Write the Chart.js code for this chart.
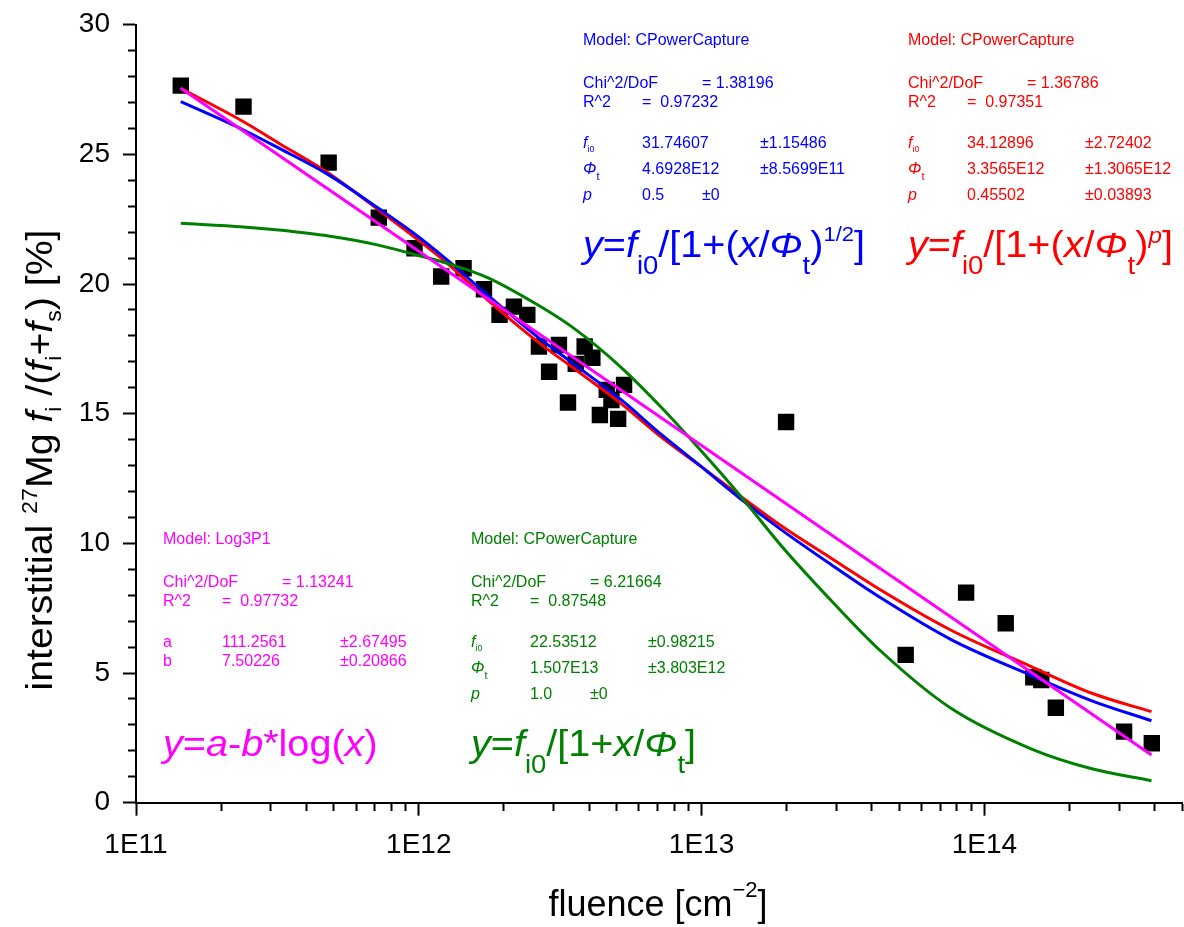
<!DOCTYPE html>
<html>
<head>
<meta charset="utf-8">
<script src="https://cdn.jsdelivr.net/npm/chart.js@4.4.1/dist/chart.umd.min.js"></script>
<style>
  html, body { margin: 0; padding: 0; background: #fff; }
  canvas { display: block; }
</style>
</head>
<body>
<canvas id="chart" width="1184" height="927"></canvas>
<script>
// measured data: fluence [cm^-2] vs interstitial fraction [%]
const fluence = [1.44e11, 2.40e11, 4.80e11, 7.22e11, 9.66e11, 1.20e12, 1.44e12, 1.70e12, 1.93e12, 2.17e12,
  2.42e12, 2.66e12, 2.89e12, 3.13e12, 3.37e12, 3.59e12, 3.86e12, 4.11e12, 4.37e12, 4.62e12, 4.80e12,
  5.07e12, 5.32e12, 1.99e13, 5.27e13, 8.62e13, 1.19e14, 1.49e14, 1.59e14, 1.79e14, 3.12e14, 3.91e14];
const fraction = [27.65, 26.84, 24.68, 22.56, 21.38, 20.29, 20.61, 19.80, 18.81, 19.13,
  18.81, 17.59, 16.62, 17.65, 15.43, 16.92, 17.59, 17.16, 14.95, 15.92, 15.53,
  14.80, 16.11, 14.68, 5.70, 8.10, 6.92, 4.84, 4.73, 3.66, 2.74, 2.29];

// fit curves
const fitX = [1.44e11, 2.4e11, 3.2e11, 4.8e11, 7.2e11, 9.6e11, 1.26e12, 1.75e12, 2.63e12, 3.53e12, 5.18e12,
  7.2e12, 1e13, 1.38e13, 1.9e13, 2.9e13, 4.3e13, 7.6e13, 1.47e14, 2.4e14, 3.9e14];
const redFit = [27.55, 26.26, 25.43, 24.27, 22.86, 21.83, 20.80, 19.39, 17.78, 16.75, 15.40,
  14.10, 12.95, 11.80, 10.70, 9.40, 8.20, 6.66, 5.24, 4.22, 3.51];
const blueFit = [27.03, 25.94, 25.24, 24.21, 22.92, 21.96, 20.93, 19.58, 17.96, 16.92, 15.55,
  14.20, 12.95, 11.70, 10.55, 9.15, 7.90, 6.30, 4.90, 3.93, 3.16];
const greenFit = [22.34, 22.20, 22.08, 21.85, 21.50, 21.15, 20.80, 20.25, 19.20, 18.30, 16.80,
  15.25, 13.55, 11.80, 9.95, 7.75, 5.85, 3.65, 2.07, 1.31, 0.85];
const magentaX = [1.44e11, 1e12, 1e13, 1e14, 3.9e14];
const magentaFit = [27.55, 21.26, 13.77, 6.27, 1.84];

// axis ticks
const decades = [1e11, 1e12, 1e13, 1e14];
const xTickLabels = ['1E11', '1E12', '1E13', '1E14'];
const yTickLabels = [0, 5, 10, 15, 20, 25, 30];

const FONT = '"Liberation Sans", Arial, Helvetica, sans-serif';

// fit report blocks
const blocks = [
  { color: '#0000ff', left: 583, top: 45, model: 'CPowerCapture', chi: '1.38196', r2: '0.97232',
    rows: [{ lab: 'f', val: '31.74607', err: '±1.15486', errX: 177, dy: 103 },
           { lab: 'Φ', val: '4.6928E12', err: '±8.5699E11', errX: 177, dy: 129 },
           { lab: 'p', val: '0.5', err: '±0', errX: 119, dy: 155 }],
    formula: [{ t: 'y', i: 1 }, { t: '=' }, { t: 'f', i: 1 }, { t: 'i0', s: 25, dy: 17 }, { t: '/[1+(' },
              { t: 'x', i: 1 }, { t: '/' }, { t: 'Φ', i: 1 }, { t: 't', s: 25, dy: 17 }, { t: ')' },
              { t: '1/2', s: 20, dy: -16 }, { t: ']' }] },
  { color: '#ff0000', left: 908, top: 45, model: 'CPowerCapture', chi: '1.36786', r2: '0.97351',
    rows: [{ lab: 'f', val: '34.12896', err: '±2.72402', errX: 177, dy: 103 },
           { lab: 'Φ', val: '3.3565E12', err: '±1.3065E12', errX: 177, dy: 129 },
           { lab: 'p', val: '0.45502', err: '±0.03893', errX: 177, dy: 155 }],
    formula: [{ t: 'y', i: 1 }, { t: '=' }, { t: 'f', i: 1 }, { t: 'i0', s: 25, dy: 17 }, { t: '/[1+(' },
              { t: 'x', i: 1 }, { t: '/' }, { t: 'Φ', i: 1 }, { t: 't', s: 25, dy: 17 }, { t: ')' },
              { t: 'p', i: 1, s: 22, dy: -14 }, { t: ']' }] },
  { color: '#ff00ff', left: 163, top: 544, model: 'Log3P1', chi: '1.13241', r2: '0.97732',
    rows: [{ lab: 'a', val: '111.2561', err: '±2.67495', errX: 177, dy: 103 },
           { lab: 'b', val: '7.50226', err: '±0.20866', errX: 177, dy: 122 }],
    formula: [{ t: 'y', i: 1 }, { t: '=' }, { t: 'a', i: 1 }, { t: '-' }, { t: 'b', i: 1 }, { t: '*log(' },
              { t: 'x', i: 1 }, { t: ')' }] },
  { color: '#008000', left: 471, top: 544, model: 'CPowerCapture', chi: '6.21664', r2: '0.87548',
    rows: [{ lab: 'f', val: '22.53512', err: '±0.98215', errX: 177, dy: 103 },
           { lab: 'Φ', val: '1.507E13', err: '±3.803E12', errX: 177, dy: 129 },
           { lab: 'p', val: '1.0', err: '±0', errX: 119, dy: 155 }],
    formula: [{ t: 'y', i: 1 }, { t: '=' }, { t: 'f', i: 1 }, { t: 'i0', s: 25, dy: 17 }, { t: '/[1+' },
              { t: 'x', i: 1 }, { t: '/' }, { t: 'Φ', i: 1 }, { t: 't', s: 25, dy: 17 }, { t: ']' }] }
];

const yTitle = [{ t: 'interstitial ' }, { t: '27', s: 22, dy: -15 }, { t: 'Mg ' }, { t: 'f', i: 1 },
  { t: 'i', s: 22, dy: 9 }, { t: ' /(' }, { t: 'f', i: 1 }, { t: 'i', s: 22, dy: 9 }, { t: '+' },
  { t: 'f', i: 1 }, { t: 's', s: 22, dy: 9 }, { t: ') [%]' }];
const xTitle = [{ t: 'fluence [cm' }, { t: '−2', s: 22, dy: -19 }, { t: ']' }];

function setFont(ctx, p, size) {
  ctx.font = (p.i ? 'italic ' : '') + (p.s || size) + 'px ' + FONT;
}
function richWidth(ctx, parts, size) {
  let w = 0;
  parts.forEach(p => { setFont(ctx, p, size); w += ctx.measureText(p.t).width; });
  return w;
}
// draws mixed italic / sub / superscript text, optionally stretched horizontally
function richText(ctx, x, y, parts, size, sx) {
  ctx.save();
  ctx.translate(x, y);
  ctx.scale(sx || 1, 1);
  let cx = 0;
  parts.forEach(p => {
    setFont(ctx, p, size);
    ctx.fillText(p.t, cx, p.dy || 0);
    cx += ctx.measureText(p.t).width;
  });
  ctx.restore();
}

function rowLabel(ctx, lab, x, y) {
  if (lab === 'f') richText(ctx, x, y, [{ t: 'f', i: 1 }, { t: 'i0', s: 9, dy: 4 }], 16);
  else if (lab === 'Φ') richText(ctx, x, y, [{ t: 'Φ', i: 1 }, { t: 't', s: 11, dy: 6 }], 16);
  else if (lab === 'p') richText(ctx, x, y, [{ t: 'p', i: 1 }], 16);
  else richText(ctx, x, y, [{ t: lab }], 16);
}

const textPlugin = {
  id: 'fitText',
  afterDraw(chart) {
    const ctx = chart.ctx;
    ctx.save();
    ctx.textAlign = 'left';
    ctx.textBaseline = 'alphabetic';
    blocks.forEach(b => {
      const L = b.left, T = b.top;
      ctx.fillStyle = b.color;
      ctx.font = '16px ' + FONT;
      ctx.fillText('Model: ' + b.model, L, T);
      ctx.fillText('Chi^2/DoF', L, T + 43);
      ctx.fillText('= ' + b.chi, L + 119, T + 43);
      ctx.fillText('R^2', L, T + 62);
      ctx.fillText('=  ' + b.r2, L + 59, T + 62);
      b.rows.forEach(r => {
        rowLabel(ctx, r.lab, L, T + r.dy);
        ctx.font = '16px ' + FONT;
        ctx.fillText(r.val, L + 59, T + r.dy);
        ctx.fillText(r.err, L + r.errX, T + r.dy);
      });
      richText(ctx, L, T + 212, b.formula, 36, 1.1);
    });

    // axis titles
    ctx.fillStyle = '#000';
    const xw = richWidth(ctx, xTitle, 36);
    richText(ctx, 658 - xw / 2, 916, xTitle, 36);
    ctx.translate(52, 460);
    ctx.rotate(-Math.PI / 2);
    const yw = richWidth(ctx, yTitle, 37) * 1.06;
    richText(ctx, -yw / 2, 0, yTitle, 37, 1.06);
    ctx.restore();
  }
};

const xy = (xs, ys) => xs.map((x, i) => ({ x: x, y: ys[i] }));
const curve = (label, xs, ys, color) => ({
  type: 'line', label: label, data: xy(xs, ys), borderColor: color, borderWidth: 3,
  pointRadius: 0, fill: false, cubicInterpolationMode: 'monotone', order: 1
});

new Chart(document.getElementById('chart').getContext('2d'), {
  type: 'scatter',
  data: {
    datasets: [
      curve('Log3P1', magentaX, magentaFit, '#ff00ff'),
      curve('CPowerCapture p=1', fitX, greenFit, '#008000'),
      curve('CPowerCapture p=1/2', fitX, blueFit, '#0000ff'),
      curve('CPowerCapture p free', fitX, redFit, '#ff0000'),
      {
        label: 'data', data: xy(fluence, fraction), pointStyle: 'rect', pointRadius: 11.6,
        backgroundColor: '#000', borderWidth: 0, order: 5
      }
    ]
  },
  options: {
    responsive: false,
    devicePixelRatio: 1,
    animation: false,
    layout: { autoPadding: false, padding: { top: 24.7, right: 2, left: 0, bottom: 0 } },
    plugins: { legend: { display: false }, tooltip: { enabled: false } },
    scales: {
      x: {
        type: 'logarithmic', position: 'bottom', min: 1e11, max: 5e14,
        afterBuildTicks: scale => {
          const t = [];
          for (let e = 11; e <= 14; e++) {
            for (let m = 1; m <= 9; m++) {
              const v = m * Math.pow(10, e);
              if (v <= 5e14) t.push({ value: v });
            }
          }
          scale.ticks = t;
        },
        afterFit: scale => {
          scale.height = 124.3;
          scale.paddingLeft = 0;
          scale.paddingRight = 0;
        },
        ticks: {
          autoSkip: false, maxRotation: 0, padding: 13, color: '#000',
          font: { family: FONT, size: 28 },
          callback: v => { const i = decades.indexOf(v); return i >= 0 ? xTickLabels[i] : ''; }
        },
        grid: {
          drawOnChartArea: false, drawTicks: true, tickLength: 13, tickWidth: 2, tickColor: '#000',
          tickBorderDash: c => (c.tick && decades.indexOf(c.tick.value) >= 0) ? [] : [7, 40]
        },
        border: { display: true, color: '#000', width: 2 }
      },
      y: {
        type: 'linear', position: 'left', min: 0, max: 30,
        afterFit: scale => {
          scale.width = 136;
          scale.paddingTop = 0;
          scale.paddingBottom = 0;
        },
        ticks: {
          stepSize: 1, autoSkip: false, padding: 13, color: '#000',
          font: { family: FONT, size: 28 },
          callback: v => yTickLabels.indexOf(v) >= 0 ? String(v) : ''
        },
        grid: {
          drawOnChartArea: false, drawTicks: true, tickLength: 13, tickWidth: 2, tickColor: '#000',
          tickBorderDash: c => (c.tick && yTickLabels.indexOf(c.tick.value) >= 0) ? [] : [0, 5, 7, 40]
        },
        border: { display: true, color: '#000', width: 2 }
      }
    }
  },
  plugins: [textPlugin]
});
</script>
</body>
</html>
